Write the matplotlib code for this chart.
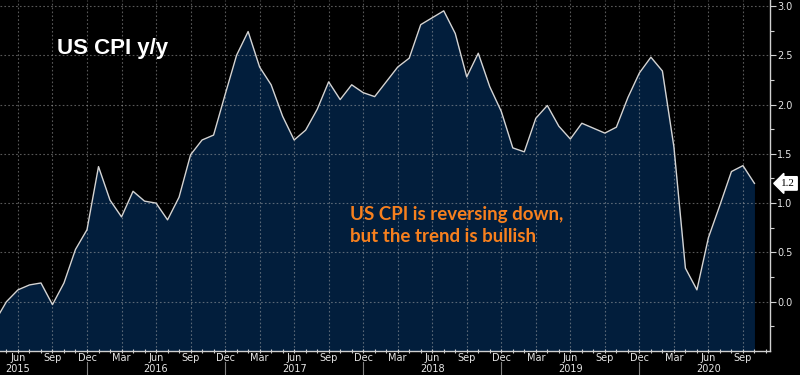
import matplotlib
matplotlib.use("Agg")
import matplotlib.pyplot as plt
import matplotlib.transforms as mtrans
import numpy as np

# US CPI y/y, monthly from Apr 2015 to Oct 2020
cpi_2015 = [-0.2, 0.0, 0.12, 0.17, 0.19, -0.03, 0.19, 0.53, 0.73]
cpi_2016 = [1.37, 1.03, 0.86, 1.12, 1.02, 1.0, 0.83, 1.06, 1.49, 1.64, 1.69, 2.1]
cpi_2017 = [2.5, 2.74, 2.38, 2.2, 1.88, 1.64, 1.74, 1.95, 2.23, 2.05, 2.2, 2.12]
cpi_2018 = [2.08, 2.23, 2.38, 2.47, 2.81, 2.88, 2.95, 2.72, 2.28, 2.52, 2.18, 1.93]
cpi_2019 = [1.56, 1.52, 1.86, 1.99, 1.78, 1.65, 1.81, 1.76, 1.71, 1.77, 2.07, 2.32]
cpi_2020 = [2.48, 2.34, 1.57, 0.34, 0.12, 0.65, 0.98, 1.32, 1.38, 1.2]

years = [2015, 2016, 2017, 2018, 2019, 2020]
month_names = ["Mar", "Jun", "Sep", "Dec"]
last_label = "1.2"

cpi = np.array(cpi_2015 + cpi_2016 + cpi_2017 + cpi_2018 + cpi_2019 + cpi_2020)
# month index, 0 = Jan 2015
months = np.arange(3, 3 + len(cpi))

bg = "black"
fill_col = "#021e3c"
txt_col = "#e6e6e6"

fig = plt.figure(figsize=(8, 3.75), dpi=100, facecolor=bg)
ax = fig.add_axes([0, 0.064, 0.9625, 0.936])
ax.set_facecolor(bg)

ymin, ymax = -0.5, 3.06
ax.set_xlim(3.44, 70.35)
ax.set_ylim(ymin, ymax)

ax.fill_between(months, cpi, ymin, color=fill_col, zorder=1, lw=0)
ax.plot(months, cpi, color="#d4d4d4", lw=1.0, zorder=3)

# grid
qticks = [m for m in range(2, 72, 3) if 3.44 < m < 70.35]
ax.set_xticks(qticks)
ax.set_xticklabels([month_names[(m - 2) // 3 % 4] for m in qticks])
ax.set_xticks(range(4, 71), minor=True)
ax.set_yticks(np.arange(0, 3.01, 0.5))
ax.set_yticks(np.arange(-0.25, 3.01, 0.25), minor=True)
ax.yaxis.set_major_formatter(matplotlib.ticker.FormatStrFormatter("%.1f"))
ax.grid(True, which="major", color="#b0b0b0", alpha=0.5, ls=(0, (1.5, 2)), lw=0.8, zorder=2)

ax.yaxis.tick_right()
ax.tick_params(axis="y", which="major", colors="#d0d0d0", labelcolor=txt_col,
               labelsize=7, length=4, width=0.8, pad=1)
ax.tick_params(axis="y", which="minor", colors="#d0d0d0", length=3, width=0.8)
ax.tick_params(axis="x", which="both", direction="inout", colors="#d0d0d0",
               labelcolor=txt_col, labelsize=7, length=3, width=0.8, pad=0)

for s in ["top", "left"]:
    ax.spines[s].set_visible(False)
for s in ["bottom", "right"]:
    ax.spines[s].set_color("#d0d0d0")
    ax.spines[s].set_linewidth(1.0)

# year labels and separators below month labels
trans = mtrans.blended_transform_factory(ax.transData, fig.transFigure)
for y in years:
    mid = (y - 2015) * 12 + 5
    ax.text(mid, 0.016, str(y), transform=trans, ha="center", va="center",
            fontsize=7, color=txt_col, clip_on=False)
    sep = (y - 2015) * 12 + 11
    if sep < 70:
        ax.plot([sep, sep], [0.0, 0.035], transform=trans, color="#808080",
                lw=0.8, clip_on=False)

# title and comment
fig.text(0.071, 0.855, "US CPI y/y", color="white", fontsize=16,
         fontweight="bold", family="Liberation Sans")
fig.text(0.437, 0.356, "US CPI is reversing down,\nbut the trend is bullish",
         color="#f7801e", fontsize=13.5, fontweight="bold", family="Lato",
         linespacing=1.35)

# last value tag
ax.annotate(last_label, xy=(1.0, cpi[-1]), xycoords=("axes fraction", "data"),
            xytext=(8, 0), textcoords="offset points", ha="left", va="center",
            fontsize=8, color="black", family="Liberation Serif",
            bbox=dict(boxstyle="larrow,pad=0.2", fc="white", ec="white"))

fig.savefig("out.png", dpi=100, facecolor=bg)
